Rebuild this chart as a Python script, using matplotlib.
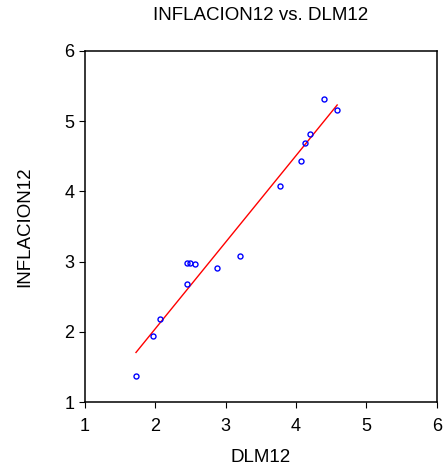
import numpy as np
from matplotlib import pyplot as plt

plt.rcParams['font.family'] = ['Liberation Sans', 'DejaVu Sans']

# values
dlm12 = [1.725, 1.97, 2.07, 2.445, 2.45, 2.49, 2.565, 2.87, 3.205,
         3.77, 4.07, 4.13, 4.20, 4.40, 4.585]
inflacion12 = [1.37, 1.94, 2.18, 2.98, 2.685, 2.98, 2.96, 2.905, 3.08,
               4.07, 4.43, 4.69, 4.815, 5.32, 5.15]
ticks = [1, 2, 3, 4, 5, 6]

x = np.array(dlm12)
y = np.array(inflacion12)

# least squares fit line
slope, intercept = np.polyfit(x, y, 1)
xs = np.array([x.min(), x.max()])

fig = plt.figure(figsize=(4.44, 4.72), dpi=100)
ax = fig.add_axes([0.1914, 0.1477, 0.7922, 0.7449])

ax.plot(xs, slope*xs + intercept, color='red', lw=1.0)
ax.plot(x, y, 'o', mfc='none', mec='blue', ms=3.6, mew=1.0)

ax.set_xlim(1, 6)
ax.set_ylim(1, 6)
ax.set_xticks(ticks)
ax.set_yticks(ticks)
ax.tick_params(direction='out', length=4, width=0.8, labelsize=13)
ax.tick_params(axis='x', pad=7.5)
ax.tick_params(axis='y', pad=3.5)
for s in ax.spines.values():
    s.set_linewidth(1.1)

ax.set_xlabel('DLM12', fontsize=13.5, va='center')
ax.xaxis.set_label_coords(0.5, -0.1576)
ax.set_ylabel('INFLACION12', fontsize=13.5, va='center')
ax.yaxis.set_label_coords(-0.172, 0.5)
ax.text(0.5, 1.0987, 'INFLACION12 vs. DLM12', transform=ax.transAxes,
        ha='center', va='center', fontsize=13.5)

fig.savefig('out.png', dpi=100)
